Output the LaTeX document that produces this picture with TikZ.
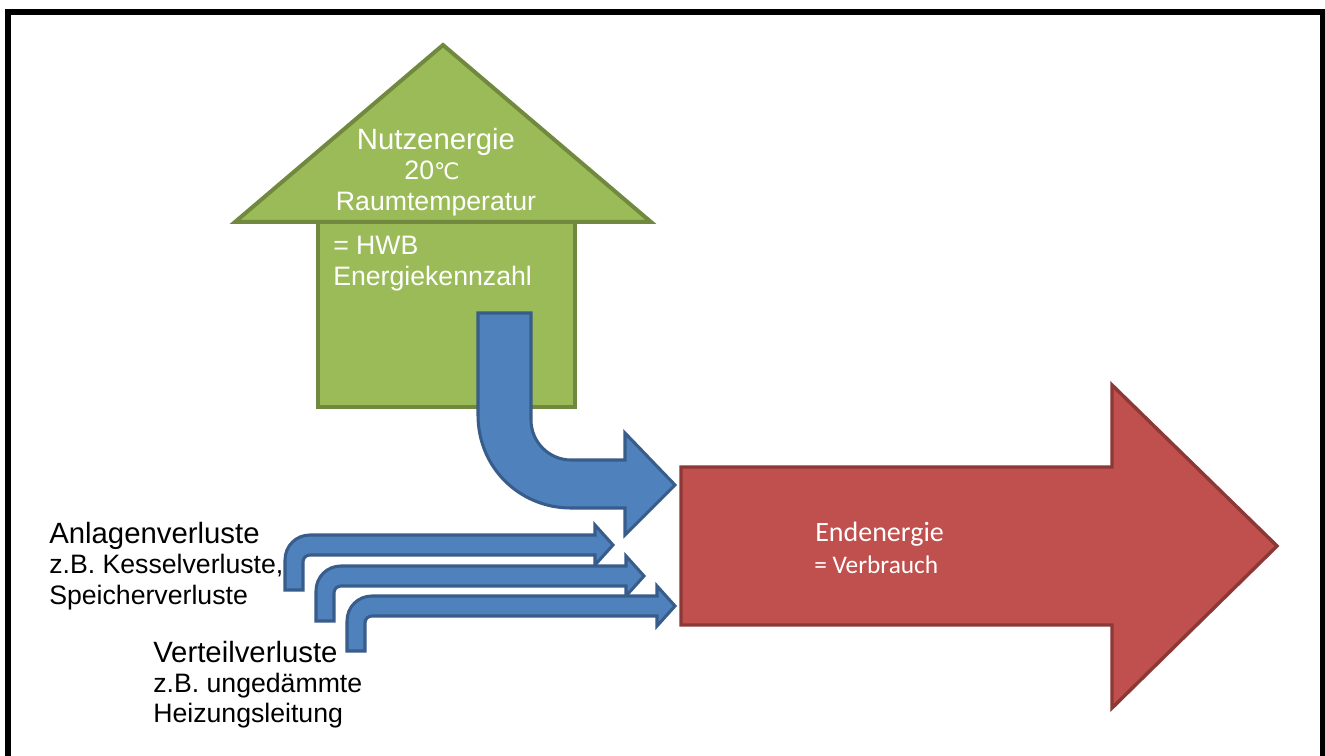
\documentclass[tikz,border=0pt]{standalone}
\usepackage{fontspec}
\setmainfont{Liberation Sans}
\newfontfamily\calibfont{Carlito}
\newfontfamily\djfont{DejaVu Sans}
\definecolor{grfill}{HTML}{9BBB59}
\definecolor{grline}{HTML}{71893F}
\definecolor{blfill}{HTML}{4F81BD}
\definecolor{blline}{HTML}{385D8A}
\definecolor{rdfill}{HTML}{C0504D}
\definecolor{rdline}{HTML}{8C3836}
\begin{document}
\begin{tikzpicture}[x=0.75pt,y=-0.75pt,
  greenshape/.style={fill=grfill,draw=grline,line width=3pt,line join=miter},
  blueshape/.style={fill=blfill,draw=blline,line width=2.3pt,line join=miter},
  redshape/.style={fill=rdfill,draw=rdline,line width=2.6pt,line join=miter},
  bigtxt/.style={inner sep=0pt,font=\fontsize{22}{26}\selectfont},
  smalltxt/.style={inner sep=0pt,font=\fontsize{20}{24}\selectfont},
  whitebig/.style={bigtxt,text=white},
  whitesmall/.style={smalltxt,text=white}]
\useasboundingbox (0,0) rectangle (1325,756);
\fill[white] (0,0) rectangle (1325,756);
% frame
\draw[line width=4.5pt,line join=miter] (8,770) -- (8,12) -- (1323,12) -- (1323,770);
% house
\draw[greenshape] (318,222) rectangle (575,407);
\draw[greenshape] (235,222) -- (443,45) -- (651,222) -- cycle;
% big bent arrow
\draw[blueshape] (478,313) -- (531,313) -- (531,420)
  .. controls (531,442) and (549,460) .. (571,460)
  -- (625,460) -- (625,433) -- (675,485) -- (625,535) -- (625,508) -- (571,508)
  .. controls (520,508) and (478,468) .. (478,415) -- cycle;
% red arrow
\draw[redshape] (681,467) -- (1112,467) -- (1112,385) -- (1277,546) -- (1112,708) -- (1112,625) -- (681,625) -- cycle;
% small arrows
\foreach \dx/\dy in {0/0,31/31,62/61}{
\begin{scope}[shift={(\dx,\dy)}]
\draw[blueshape] (285,590) -- (285,560) .. controls (285,546) and (296,535) .. (310,535)
  -- (595,535) -- (595,525) -- (613,545) -- (595,565) -- (595,555) -- (310,555)
  .. controls (306,555) and (303,558) .. (303,562) -- (303,590) -- cycle;
\end{scope}}
% house texts
\node[whitebig,anchor=base] (nutz) at (436,150) {Nutzenergie};
\node[whitesmall,anchor=base] (temp) at (432,180) {20{\djfont\fontsize{17}{20}\selectfont ℃}};
\node[whitesmall,anchor=base] (raum) at (436,211) {Raumtemperatur};
\node[whitesmall,anchor=base west] (hwb) at (333,255) {= HWB};
\node[whitesmall,anchor=base west] (ekz) at (333,286) {Energiekennzahl};
% red arrow texts
\node[inner sep=0pt,anchor=base west,text=white,font=\calibfont\fontsize{21}{24}\selectfont] (end) at (815,541) {Endenergie};
\node[inner sep=0pt,anchor=base west,text=white,font=\calibfont\fontsize{19}{22}\selectfont] (verb) at (814,573) {= Verbrauch};
% left texts
\node[bigtxt,anchor=base west] (anl) at (49,543) {Anlagenverluste};
\node[smalltxt,anchor=base west] (kes) at (49,573) {z.B. Kesselverluste,};
\node[smalltxt,anchor=base west] (spe) at (49,604) {Speicherverluste};
\node[bigtxt,anchor=base west] (ver) at (153,662) {Verteilverluste};
\node[smalltxt,anchor=base west] (ung) at (153,692) {z.B. ungedämmte};
\node[smalltxt,anchor=base west] (hei) at (153,722) {Heizungsleitung};
\end{tikzpicture}
\end{document}
